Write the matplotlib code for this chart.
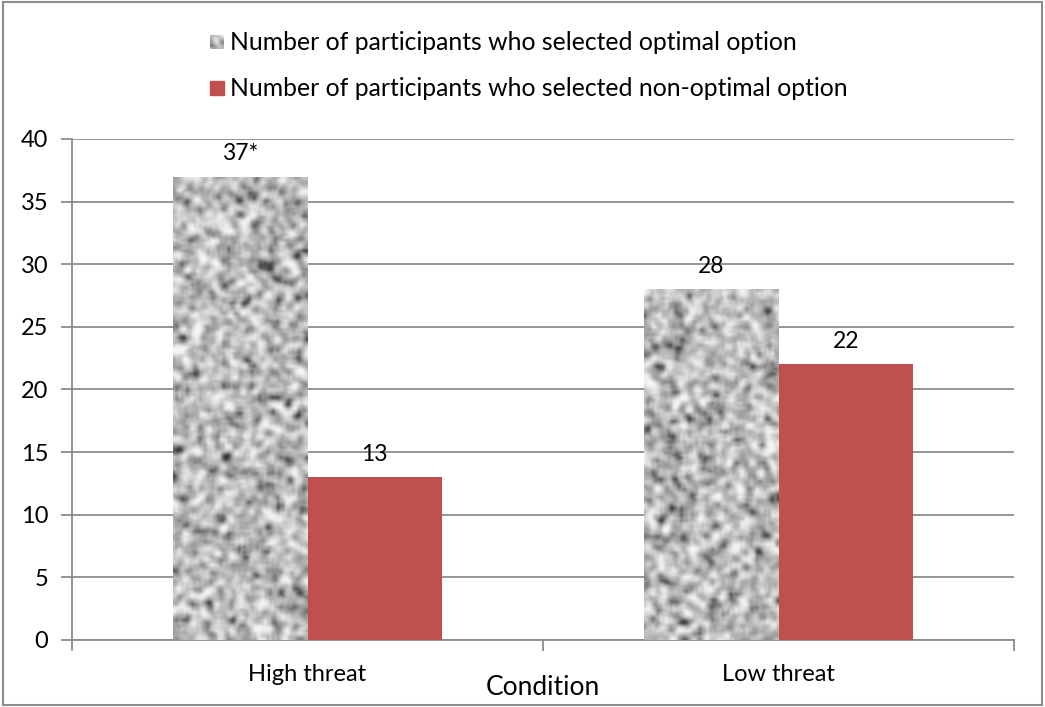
import numpy as np
import matplotlib
matplotlib.use("Agg")
import matplotlib.pyplot as plt
from matplotlib.patches import Rectangle

conditions = ["High threat", "Low threat"]
optimal = [37, 28]
non_optimal = [13, 22]
optimal_labels = ["37*", "28"]
non_optimal_labels = ["13", "22"]
series_names = ["Number of participants who selected optimal option",
                "Number of participants who selected non-optimal option"]
yticks = [0, 5, 10, 15, 20, 25, 30, 35, 40]

plt.rcParams["font.family"] = ["Lato", "DejaVu Sans"]

red = "#C0504D"
grid_col = "#8c8c8c"


def granite(h, w, seed):
    # grey speckled fill for the "optimal" bars
    rng = np.random.default_rng(seed)
    a = rng.random((h + 4, w + 4))
    k = np.ones(3) / 3
    a = np.apply_along_axis(lambda r: np.convolve(r, k, mode="valid"), 1, a)
    a = np.apply_along_axis(lambda c: np.convolve(c, k, mode="valid"), 0, a)
    a = a[1:-1, 1:-1]
    a = (a - a.mean()) / a.std()
    v = 0.73 + 0.12 * a
    v = np.where(a < -1.3, v - 0.15 * (-1.3 - a), v)
    return np.clip(v, 0.15, 0.96)


fig = plt.figure(figsize=(10.45, 7.07), dpi=100)
ax = fig.add_axes([72 / 1045, 1 - 640 / 707, 942 / 1045, 501 / 707])

x = np.arange(len(conditions))
w = 0.286

bars_opt = ax.bar(x - w / 2, optimal, w, color="#b0b0b0", zorder=2)
for i, b in enumerate(bars_opt):
    img = granite(int(b.get_height() * 12.5 / 2.6), 52, seed=i + 3)
    im = ax.imshow(img, cmap="gray", vmin=0, vmax=1, aspect="auto",
                   interpolation="bicubic",
                   extent=[b.get_x(), b.get_x() + b.get_width(), 0, b.get_height()],
                   zorder=3)
    im.set_clip_path(b)
bars_non = ax.bar(x + w / 2, non_optimal, w, color=red, zorder=3)

for b, lab in zip(bars_opt, optimal_labels):
    ax.annotate(lab, (b.get_x() + b.get_width() / 2, b.get_height()),
                xytext=(0, 9), textcoords="offset points",
                ha="center", va="bottom", fontsize=16.5)
for b, lab in zip(bars_non, non_optimal_labels):
    ax.annotate(lab, (b.get_x() + b.get_width() / 2, b.get_height()),
                xytext=(0, 9), textcoords="offset points",
                ha="center", va="bottom", fontsize=16.5)

ax.set_xlim(-0.5, 1.5)
ax.set_ylim(0, 40)
ax.set_yticks(yticks)
ax.yaxis.grid(True, color=grid_col, lw=1.3, zorder=1)
ax.set_axisbelow(True)
ax.tick_params(axis="y", labelsize=17, length=8, color=grid_col, width=1.3, pad=9)

# category labels sit between the outer ticks
ax.set_xticks([-0.5, 0.5, 1.5])
ax.set_xticklabels([])
ax.set_xticks(x, minor=True)
ax.set_xticklabels(conditions, minor=True, fontsize=17)
ax.tick_params(axis="x", which="major", length=8, color=grid_col, width=1.3, direction="out")
ax.tick_params(axis="x", which="minor", length=0, pad=17)
ax.set_xlabel("Condition", fontsize=19, labelpad=-7)

for s in ["top", "right"]:
    ax.spines[s].set_visible(False)
for s in ["left", "bottom"]:
    ax.spines[s].set_color(grid_col)
    ax.spines[s].set_linewidth(1.3)

# legend drawn as two rows above the plot
leg_x = 210 / 1045
for j, (name, yy) in enumerate(zip(series_names, [42, 88])):
    yf = 1 - yy / 707
    sq = 14 / 1045
    if j == 0:
        lim = fig.add_axes([leg_x, yf - 7 / 707, sq, 14 / 707])
        lim.imshow(granite(6, 6, 11), cmap="gray", vmin=0, vmax=1,
                   interpolation="bicubic", aspect="auto")
        lim.axis("off")
    else:
        fig.patches.append(Rectangle((leg_x, yf - 7 / 707), sq, 14 / 707,
                                     transform=fig.transFigure, color=red))
    fig.text(230 / 1045, yf, name, fontsize=17.8, va="center", ha="left")

# outer chart border
fig.patches.append(Rectangle((3 / 1045, 2 / 707), 1039 / 1045, 703 / 707,
                             transform=fig.transFigure, fill=False,
                             edgecolor=grid_col, lw=1.5))

fig.savefig("out.png", dpi=100)
